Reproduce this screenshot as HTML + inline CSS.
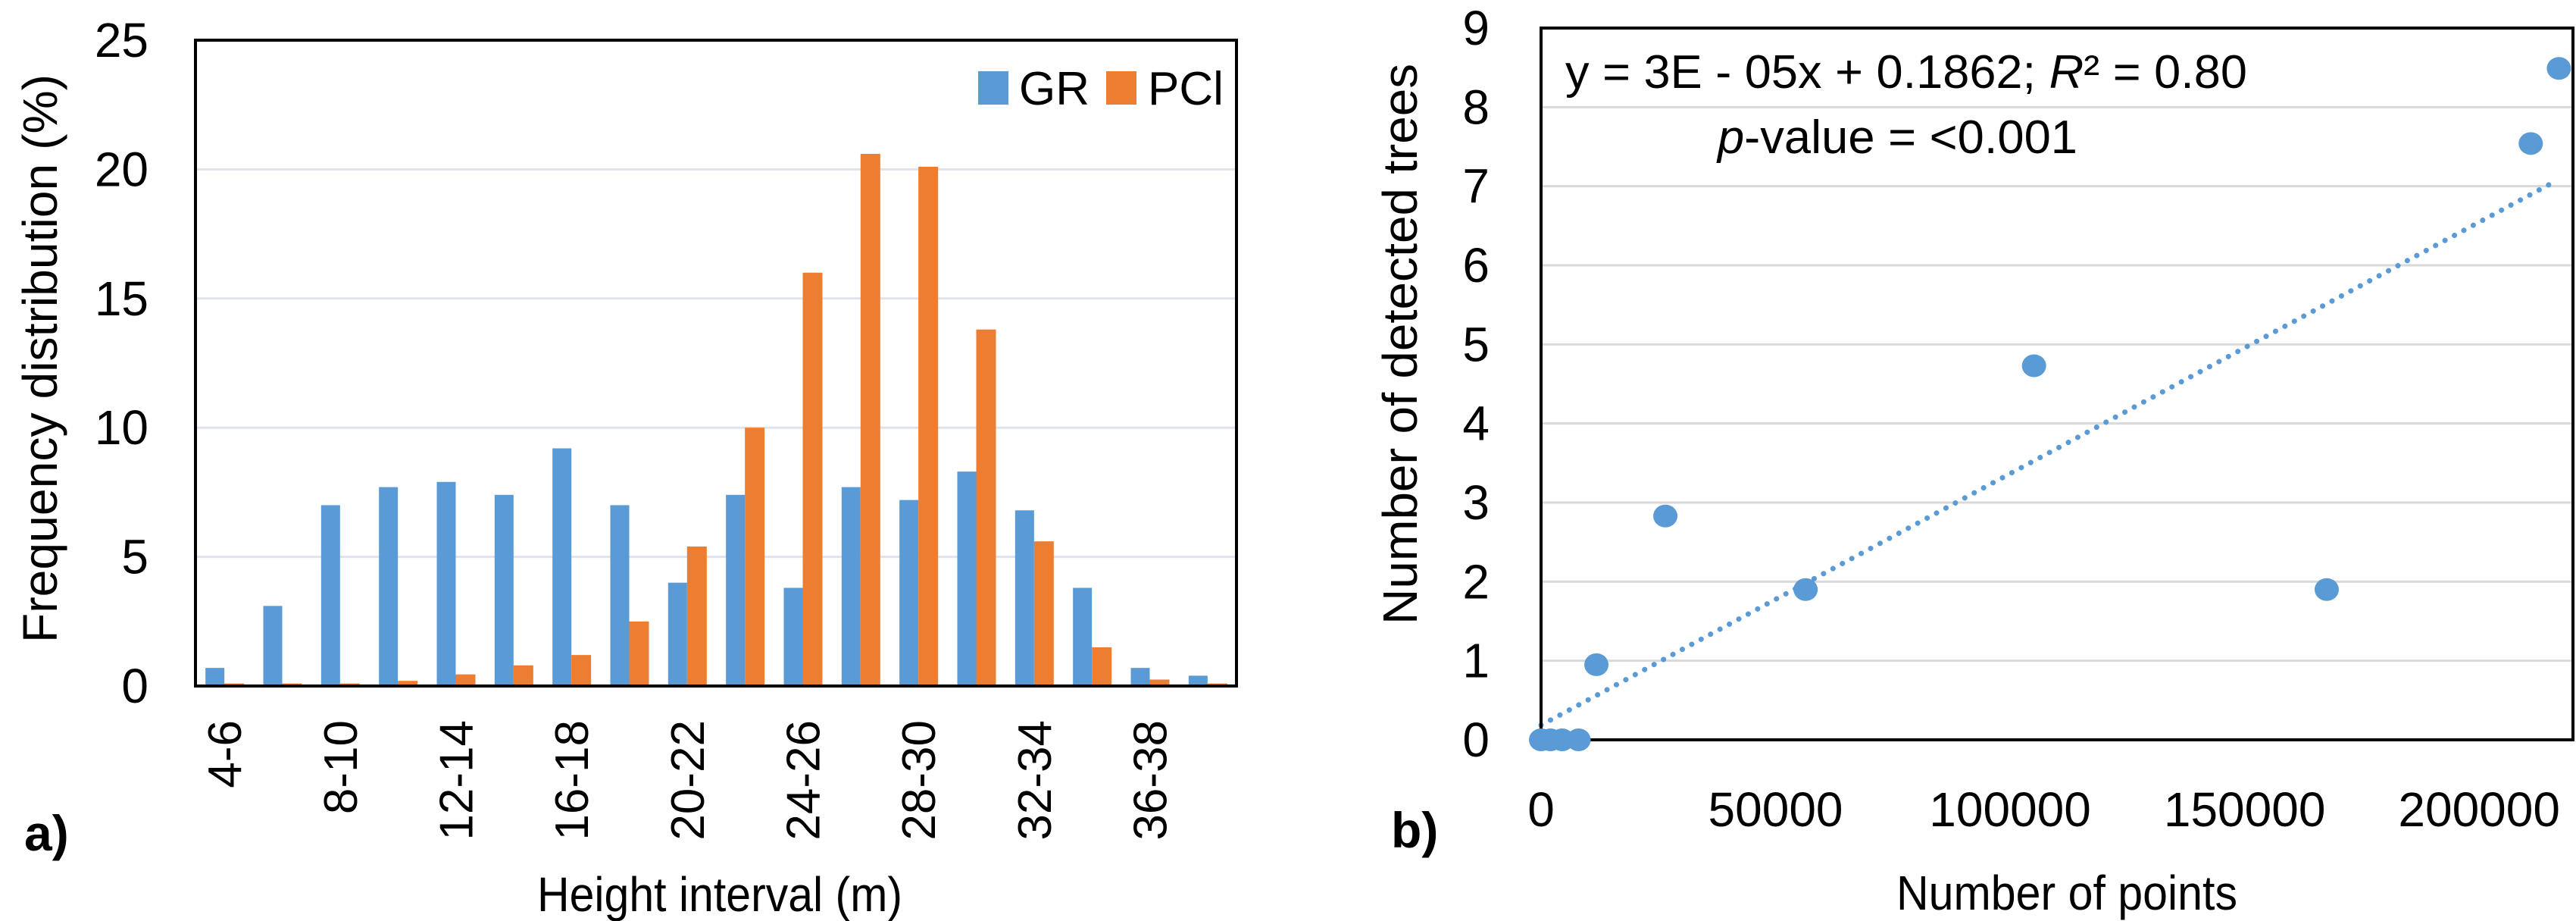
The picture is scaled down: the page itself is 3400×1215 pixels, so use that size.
<!DOCTYPE html>
<html><head><meta charset="utf-8"><style>
html,body{margin:0;padding:0;background:#fff;}
svg{display:block;font-family:"Liberation Sans",sans-serif;}
</style></head><body>
<svg id="svg" width="3400" height="1215" viewBox="0 0 3400 1215" xmlns="http://www.w3.org/2000/svg">
<g id="chartA"></g>
<g id="chartB"></g>
</svg>
<script>
const categories=["4-6","6-8","8-10","10-12","12-14","14-16","16-18","18-20","20-22","22-24","24-26","26-28","28-30","30-32","32-34","34-36","36-38","38-40"];
const grValues=[0.7,3.1,7.0,7.7,7.9,7.4,9.2,7.0,4.0,7.4,3.8,7.7,7.2,8.3,6.8,3.8,0.7,0.4];
const pclValues=[0.1,0.1,0.1,0.2,0.45,0.8,1.2,2.5,5.4,10.0,16.0,20.6,20.1,13.8,5.6,1.5,0.25,0.1];
const yTicksA=[0,5,10,15,20,25];
const ptsX=[0,2000,4500,8000,11800,26500,56400,105100,167500,211000,217000];
const ptsY=[0,0,0,0,0.95,2.83,1.9,4.73,1.9,7.54,8.49];
const xTicksB=[0,50000,100000,150000,200000];
const yTicksB=[0,1,2,3,4,5,6,7,8,9];
const trendSlope=3.18e-5, trendIntercept=0.1862, trendXmax=216500;

const NS="http://www.w3.org/2000/svg";
function mk(parent,tag,attrs,text){const e=document.createElementNS(NS,tag);for(const k in attrs)e.setAttribute(k,attrs[k]);if(text!==undefined)e.textContent=text;parent.appendChild(e);return e;}

// ---- Chart A ----
const A=document.getElementById('chartA');
const aL=258,aR=1632,aT=53,aB=905;
const yA=v=>aB-(v/25)*(aB-aT);
const cw=(aR-aL)/categories.length;
const xA=i=>aL+cw*i;
yTicksA.forEach(t=>{
  if(t>0&&t<25){const g=mk(A,'line',{x1:aL,x2:aR,y1:yA(t),y2:yA(t),stroke:'#dfe3ec','stroke-width':3});
  }
  const l=mk(A,'text',{x:196,y:yA(t)+22,'text-anchor':'end','font-size':64,fill:'#000'},String(t));
  
});
const bw=25;
categories.forEach((c,i)=>{
  const cx=xA(i)+cw/2;
  const b1=mk(A,'rect',{x:cx-bw,y:yA(grValues[i]),width:bw,height:aB-yA(grValues[i]),fill:'#5b9bd5'});
  
  const b2=mk(A,'rect',{x:cx,y:yA(pclValues[i]),width:bw+1,height:aB-yA(pclValues[i]),fill:'#ed7d31'});
  
  if(i%2===0){
    const t=mk(A,'text',{x:0,y:0,'text-anchor':'end','font-size':62,fill:'#000',transform:`translate(${cx+22},950) rotate(-90)`},c);
    
  }
});
const fa=mk(A,'rect',{x:aL,y:aT,width:aR-aL,height:aB-aT,fill:'none',stroke:'#000','stroke-width':4});

const yt=mk(A,'text',{x:0,y:0,'text-anchor':'middle','font-size':64,fill:'#000',textLength:750,lengthAdjust:'spacingAndGlyphs',transform:'translate(75,473) rotate(-90)'},'Frequency distribution (%)');

const xt=mk(A,'text',{x:950,y:1202,'text-anchor':'middle','font-size':64,fill:'#000',textLength:482,lengthAdjust:'spacingAndGlyphs'},'Height interval (m)');

const pa=mk(A,'text',{x:32,y:1122,'font-size':66,'font-weight':'bold',fill:'#000'},'a)');

const lg=mk(A,'g',{});
const s1=mk(lg,'rect',{x:1291,y:94,width:40,height:44,fill:'#5b9bd5'});
const t1=mk(lg,'text',{x:1345,y:138,'font-size':62,fill:'#000'},'GR');
const s2=mk(lg,'rect',{x:1460,y:94,width:40,height:44,fill:'#ed7d31'});
const t2=mk(lg,'text',{x:1515,y:138,'font-size':62,fill:'#000'},'PCl');

// ---- Chart B ----
const B=document.getElementById('chartB');
const bL=2034,bR=3396,bT=37,bB=976;
const xB=v=>bL+(v/220000)*(bR-bL);
const yB=v=>bB-(v/9)*(bB-bT);
yTicksB.forEach(t=>{
  if(t>0){const g=mk(B,'line',{x1:bL,x2:bR,y1:yB(t),y2:yB(t),stroke:'#d9d9d9','stroke-width':3});
  }
  const l=mk(B,'text',{x:1966,y:yB(t)+22,'text-anchor':'end','font-size':64,fill:'#000'},String(t));
  
});
xTicksB.forEach(t=>{
  const l=mk(B,'text',{x:xB(t),y:1090,'text-anchor':'middle','font-size':64,fill:'#000'},String(t));
  
});
const tr=mk(B,'line',{x1:xB(0),y1:yB(trendIntercept),x2:xB(trendXmax),y2:yB(trendIntercept+trendSlope*trendXmax),stroke:'#5b9bd5','stroke-width':7,'stroke-dasharray':'0.1 14','stroke-linecap':'round'});

const fb=mk(B,'path',{d:`M${bL} ${bT} V${bB} H${bR} V${bT} Z`,fill:'none',stroke:'#000','stroke-width':4});

ptsX.forEach((x,i)=>{
  const c=mk(B,'ellipse',{cx:xB(x),cy:yB(ptsY[i]),rx:16,ry:15,fill:'#5b9bd5'});
  
});
const eq=mk(B,'text',{x:2066,y:116,'font-size':62,fill:'#000',textLength:900,lengthAdjust:'spacingAndGlyphs'});

eq.innerHTML='y = 3E - 05x + 0.1862; <tspan font-style="italic">R</tspan>² = 0.80';
const pv=mk(B,'text',{x:2267,y:202,'font-size':62,fill:'#000',textLength:475,lengthAdjust:'spacingAndGlyphs'});

pv.innerHTML='<tspan font-style="italic">p</tspan>-value = &lt;0.001';
const ytb=mk(B,'text',{x:0,y:0,'text-anchor':'middle','font-size':64,fill:'#000',textLength:740,lengthAdjust:'spacingAndGlyphs',transform:'translate(1870,454) rotate(-90)'},'Number of detected trees');

const xtb=mk(B,'text',{x:2728,y:1200,'text-anchor':'middle','font-size':64,fill:'#000',textLength:450,lengthAdjust:'spacingAndGlyphs'},'Number of points');

const pb=mk(B,'text',{x:1836,y:1118,'font-size':66,'font-weight':'bold',fill:'#000'},'b)');

</script>
</body></html>
